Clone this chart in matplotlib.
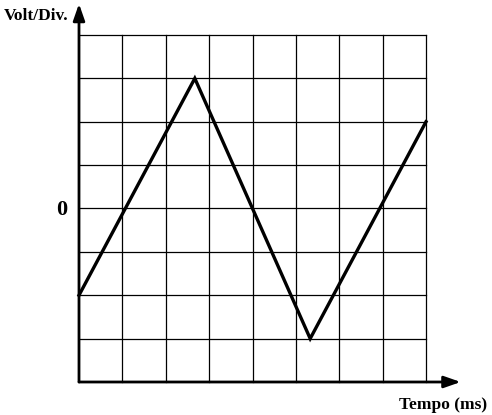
import matplotlib.pyplot as plt

# triangle wave vertices (ms divisions, volt divisions)
t_pts = [0, 2.67, 5.33, 8]
v_pts = [-2, 3, -3, 2]

x_ticks = [1, 2, 3, 4, 5, 6, 7, 8]
y_ticks = [-3, -2, -1, 0, 1, 2, 3, 4]

W, H = 492, 415
fig = plt.figure(figsize=(W / 100, H / 100), dpi=100)
ax = fig.add_axes([79 / W, (H - 382) / H, 347 / W, 347 / H])
ax.set_xlim(0, 8)
ax.set_ylim(-4, 4)
ax.axis("off")

for x in x_ticks:
    ax.plot([x, x], [-4, 4], color="black", lw=0.9, clip_on=False)
for y in y_ticks:
    ax.plot([0, 8], [y, y], color="black", lw=0.9, clip_on=False)

ax.plot(t_pts, v_pts, color="black", lw=2.4, solid_joinstyle="miter", clip_on=False)

# axes with arrows
arrow = dict(arrowstyle="-|>,head_length=1.0,head_width=0.35", color="black", lw=2, shrinkA=0, shrinkB=0)
ax.annotate("", xy=(8.8, -4), xytext=(0, -4), arrowprops=arrow, annotation_clip=False)
ax.annotate("", xy=(0, 4.72), xytext=(0, -4), arrowprops=arrow, annotation_clip=False)

font = dict(family="Liberation Serif", weight="bold", color="black")
fig.text(4 / W, 1 - 16 / H, "Volt/Div.", fontsize=12.5, ha="left", va="center", **font)
fig.text(62 / W, 1 - 210 / H, "0", fontsize=16, ha="center", va="center", **font)
fig.text(443 / W, 1 - 405 / H, "Tempo (ms)", fontsize=12.5, ha="center", va="center", **font)

fig.savefig("out.png", dpi=100)
